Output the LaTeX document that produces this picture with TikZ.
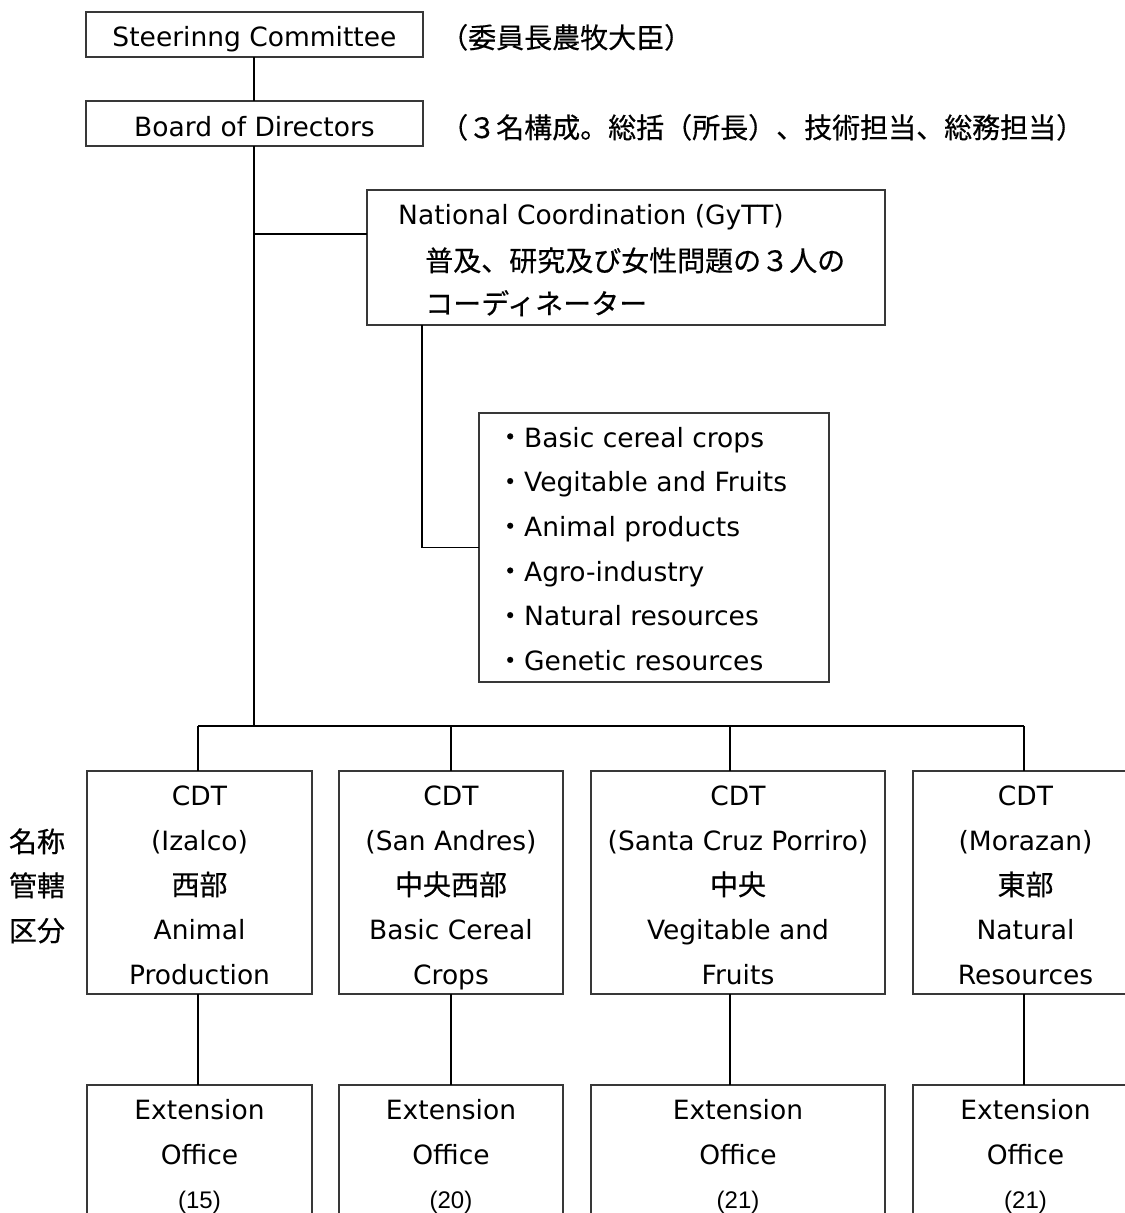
\documentclass[tikz,border=0pt]{standalone}
\usepackage{fontspec}
\setmainfont{DejaVu Sans}
\newfontfamily\jpfamily[FakeBold=0.4]{Noto Sans CJK JP}
\newfontfamily\numfamily{Liberation Sans}
\usetikzlibrary{calc}

\newcommand\latfont{\fontsize{26.5bp}{30bp}\selectfont}
\newcommand\jpfont{\jpfamily\fontsize{28bp}{32bp}\selectfont}
\newcommand\numfont{\numfamily\fontsize{24bp}{28bp}\selectfont}

\begin{document}
\begin{tikzpicture}[x=1bp,y=-1bp,
  box/.style 2 args={draw=black!78, line width=1.3bp, inner sep=0pt, outer sep=0pt,
                     minimum width=#1, minimum height=#2},
  lat/.style={font=\latfont, inner sep=0pt, anchor=base},
  latw/.style={font=\latfont, inner sep=0pt, anchor=base west},
  jp/.style={font=\jpfont, inner sep=0pt, anchor=base},
  jpw/.style={font=\jpfont, inner sep=0pt, anchor=base west},
  num/.style={font=\numfont, inner sep=0pt, anchor=base},
  link/.style={draw=black, line width=1.3bp}]

\useasboundingbox (0,0) rectangle (1125,1213);
\clip (0,0) rectangle (1125,1213);

% ---- top of the hierarchy ----
\node[box={337bp}{45bp}] (steer) at (254.5,34.5) {};
\node[lat] (steer-t) at (254.5,46) {Steerinng Committee};
\node[jpw] (steer-n) at (440,48) {（委員長農牧大臣）};

\node[box={337bp}{45bp}] (board) at (254.5,123.5) {};
\node[lat] (board-t) at (254.5,136) {Board of Directors};
\node[jpw] (board-n) at (440,138) {（３名構成。総括（所長）、技術担当、総務担当）};

% ---- national coordination ----
\node[box={518bp}{135bp}] (nc) at (626,257.5) {};
\node[latw] (nc-1) at (398,224) {National Coordination (GyTT)};
\node[jpw] (nc-2) at (425,271) {普及、研究及び女性問題の３人の};
\node[jpw] (nc-3) at (425,314) {コーディネーター};

% ---- subject areas ----
\node[box={350bp}{269bp}] (bul) at (654,547.5) {};
\foreach \txt [count=\i] in {Basic cereal crops, Vegitable and Fruits,
    Animal products, Agro-industry, Natural resources, Genetic resources}
  \node[latw] (bul-\i) at (496,{447+44.7*(\i-1)}) {{\jpfont ・}\txt};

% ---- regional centres ----
\node[box={225bp}{223bp}] (c1) at (199.5,882.5) {};
\node[box={224bp}{223bp}] (c2) at (451,882.5) {};
\node[box={294bp}{223bp}] (c3) at (738,882.5) {};
\node[box={225bp}{223bp}] (c4) at (1025.5,882.5) {};

\foreach \txt [count=\i] in {CDT, (Izalco), {\jpfont 西部}, Animal, Production}
  \node[lat] (c1-\i) at ($(c1.north)+(0,{34.5+44.75*(\i-1)})$) {\txt};
\foreach \txt [count=\i] in {CDT, (San Andres), {\jpfont 中央西部}, Basic Cereal, Crops}
  \node[lat] (c2-\i) at ($(c2.north)+(0,{34.5+44.75*(\i-1)})$) {\txt};
\foreach \txt [count=\i] in {CDT, (Santa Cruz Porriro), {\jpfont 中央}, Vegitable and, Fruits}
  \node[lat] (c3-\i) at ($(c3.north)+(0,{34.5+44.75*(\i-1)})$) {\txt};
\foreach \txt [count=\i] in {CDT, (Morazan), {\jpfont 東部}, Natural, Resources}
  \node[lat] (c4-\i) at ($(c4.north)+(0,{34.5+44.75*(\i-1)})$) {\txt};

% row captions on the left
\node[jp] (cap-1) at (37,852) {名称};
\node[jp] (cap-2) at (37,896) {管轄};
\node[jp] (cap-3) at (37,941) {区分};

% ---- extension offices ----
\node[box={225bp}{150bp}] (e1) at (199.5,1160) {};
\node[box={224bp}{150bp}] (e2) at (451,1160) {};
\node[box={294bp}{150bp}] (e3) at (738,1160) {};
\node[box={225bp}{150bp}] (e4) at (1025.5,1160) {};

\foreach \n/\cnt in {1/15, 2/20, 3/21, 4/21} {
  \node[lat] (e\n-1) at ($(e\n.north)+(0,34.5)$) {Extension};
  \node[lat] (e\n-2) at ($(e\n.north)+(0,79.25)$) {Office};
  \node[num] (e\n-3) at ($(e\n.north)+(0,123)$) {(\cnt)};
}

% ---- connectors ----
\coordinate (ncjoin) at (254,234);
\coordinate (bus) at (254,726);
\coordinate (d1) at (198,726);
\coordinate (d2) at (451,726);
\coordinate (d3) at (730,726);
\coordinate (d4) at (1024,726);

\draw[link] (steer.south -| ncjoin) -- (board.north -| ncjoin);
\draw[link] (board.south -| ncjoin) -- (bus);
\draw[link] (ncjoin) -- (ncjoin -| nc.west);
\draw[link] ([xshift=55bp]nc.south west) |- (bul.west);

\draw[link] (d1) -- (d4);
\draw[link] (d1) -- (d1 |- c1.north);
\draw[link] (d2) -- (d2 |- c2.north);
\draw[link] (d3) -- (d3 |- c3.north);
\draw[link] (d4) -- (d4 |- c4.north);

\draw[link] (d1 |- c1.south) -- (d1 |- e1.north);
\draw[link] (d2 |- c2.south) -- (d2 |- e2.north);
\draw[link] (d3 |- c3.south) -- (d3 |- e3.north);
\draw[link] (d4 |- c4.south) -- (d4 |- e4.north);
\end{tikzpicture}
\end{document}
